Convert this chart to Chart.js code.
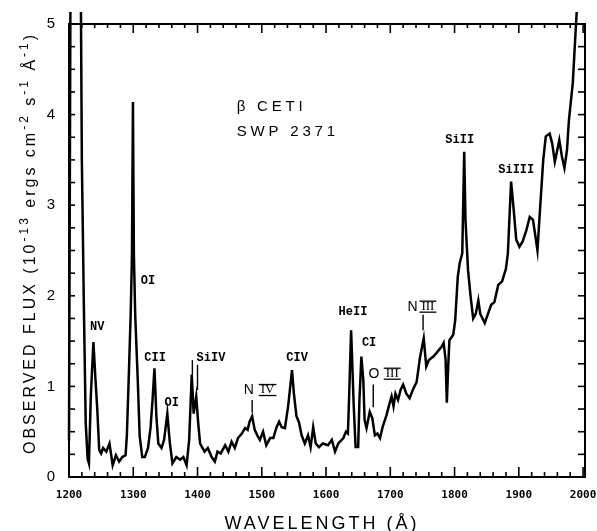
<!DOCTYPE html>
<html>
<head>
<meta charset="utf-8">
<script src="https://cdn.jsdelivr.net/npm/chart.js@4.4.0/dist/chart.umd.min.js"></script>
<style>
  body { margin: 0; background: #fff; }
  canvas { display: block; }
</style>
</head>
<body>
<canvas id="spectrum" width="597" height="531"></canvas>
<script>

// beta Ceti, IUE SWP 2371
var wavelengths = [
  1200, 1203, 1217, 1220, 1223, 1226, 1229, 1231, 1234, 1238, 1241, 1244, 1247, 1250, 1253, 1258,
  1263, 1268, 1273, 1278, 1283, 1288, 1290, 1293, 1296, 1298, 1299.5, 1301, 1303, 1307, 1310, 1314,
  1318, 1323, 1327, 1330, 1333, 1336, 1339, 1344, 1348, 1353, 1357, 1361, 1367, 1373, 1378, 1383,
  1387, 1391, 1394, 1398, 1401, 1404, 1407, 1411, 1416, 1422, 1427, 1431, 1436, 1443, 1448, 1453,
  1458, 1463, 1469, 1474, 1478, 1481, 1485, 1489, 1493, 1497, 1502, 1507, 1513, 1518, 1523, 1527,
  1531, 1536, 1541, 1547, 1550, 1554, 1558, 1562, 1567, 1572, 1576, 1580, 1584, 1589, 1595, 1603,
  1609, 1614, 1619, 1627, 1631, 1634, 1636, 1639, 1641, 1643, 1646, 1650, 1652, 1655, 1658, 1660,
  1663, 1668, 1672, 1676, 1680, 1684, 1688, 1694, 1698, 1702, 1705, 1708, 1712, 1716, 1720, 1725,
  1730, 1735, 1741, 1746, 1752, 1756, 1760, 1767, 1772, 1780, 1783, 1786, 1788, 1790, 1792, 1798,
  1801, 1805, 1808, 1812, 1815, 1817, 1821, 1825, 1829, 1833, 1837, 1840, 1847, 1852, 1857, 1862,
  1868, 1874, 1880, 1883, 1886, 1888, 1892, 1896, 1901, 1906, 1912, 1917, 1922, 1926, 1929, 1932,
  1938, 1942, 1948, 1952, 1956, 1959, 1963, 1967, 1971, 1975, 1978, 1984, 1989, 1994
];
var fluxes = [
  0.4, 7, 7, 3.5, 1.95, 0.6, 0.2, 0.15, 0.9, 1.49, 1.1, 0.75, 0.3, 0.26, 0.32, 0.28,
  0.37, 0.13, 0.24, 0.17, 0.22, 0.24, 0.45, 1.1, 1.8, 2.45, 4.14, 2.45, 1.8, 1.07, 0.45, 0.22,
  0.22, 0.32, 0.55, 0.85, 1.2, 0.67, 0.37, 0.32, 0.41, 0.7, 0.37, 0.15, 0.22, 0.19, 0.22, 0.13,
  0.41, 1.13, 0.7, 0.89, 0.6, 0.37, 0.33, 0.28, 0.32, 0.22, 0.17, 0.28, 0.26, 0.35, 0.28, 0.39,
  0.32, 0.43, 0.48, 0.54, 0.52, 0.61, 0.67, 0.52, 0.46, 0.41, 0.5, 0.35, 0.43, 0.43, 0.55, 0.61,
  0.55, 0.54, 0.78, 1.18, 0.92, 0.67, 0.6, 0.46, 0.37, 0.46, 0.33, 0.55, 0.37, 0.33, 0.37, 0.35,
  0.41, 0.28, 0.37, 0.43, 0.5, 0.48, 0.9, 1.62, 1.22, 0.8, 0.33, 0.33, 0.85, 1.33, 1.07, 0.63,
  0.54, 0.72, 0.65, 0.46, 0.48, 0.43, 0.55, 0.68, 0.79, 0.89, 0.78, 0.92, 0.85, 0.96, 1.02, 0.92,
  0.87, 0.96, 1.05, 1.31, 1.53, 1.22, 1.29, 1.33, 1.37, 1.44, 1.48, 1.3, 0.82, 1.2, 1.51, 1.57,
  1.73, 2.21, 2.36, 2.47, 3.59, 2.84, 2.28, 1.99, 1.75, 1.8, 1.95, 1.8, 1.7, 1.8, 1.9, 1.93,
  2.12, 2.16, 2.3, 2.47, 2.95, 3.26, 2.95, 2.62, 2.54, 2.6, 2.73, 2.87, 2.84, 2.65, 2.5, 2.84,
  3.5, 3.76, 3.79, 3.68, 3.48, 3.58, 3.72, 3.54, 3.41, 3.61, 3.94, 4.35, 5.0, 5.6
];

var xTickLabels = [1200, 1300, 1400, 1500, 1600, 1700, 1800, 1900, 2000];
var yTickLabels = [0, 1, 2, 3, 4, 5];

// line identifications (wavelength, flux of label centre)
var lineNames = ["NV", "OI", "CII", "OI", "SiIV", "CIV", "HeII", "CI", "SiII", "SiIII"];
var lineNameX = [1244, 1323, 1334, 1360, 1421, 1555, 1642, 1667, 1808, 1896];
var lineNameY = [1.66, 2.16, 1.31, 0.82, 1.31, 1.31, 1.82, 1.48, 3.72, 3.39];

// ions written as letter + barred roman numeral
var ionAtoms = ["N", "O", "N"];
var ionStages = ["IV", "III", "III"];
var ionAtomX = [1480, 1674.5, 1734.5];
var ionStageX = [1509, 1703, 1758.5];
var ionY = [0.96, 1.14, 1.88];

// short marker strokes under some labels
var markX = [1392, 1400, 1485, 1673.5, 1751];
var markTop = [1.29, 1.24, 0.85, 1.02, 1.79];
var markBottom = [1.13, 0.96, 0.71, 0.77, 1.62];

var points = wavelengths.map(function(w, i) { return {x: w, y: fluxes[i]}; });

function line(ctx, x1, y1, x2, y2) {
  ctx.beginPath();
  ctx.moveTo(x1, y1);
  ctx.lineTo(x2, y2);
  ctx.stroke();
}

// text with superscripts, centred on x
function richText(ctx, parts, x, y, font, supFont, spacing) {
  ctx.letterSpacing = spacing;
  var w = 0;
  parts.forEach(function(p) {
    ctx.font = p[1] ? supFont : font;
    w += ctx.measureText(p[0]).width;
  });
  var cx = x - w / 2;
  ctx.textAlign = "left";
  ctx.textBaseline = "alphabetic";
  parts.forEach(function(p) {
    ctx.font = p[1] ? supFont : font;
    ctx.fillText(p[0], cx, p[1] ? y - 7 : y);
    cx += ctx.measureText(p[0]).width;
  });
  ctx.letterSpacing = "0px";
}

var decorations = {
  id: "decorations",
  afterDatasetsDraw: function(chart) {
    var ctx = chart.ctx;
    var area = chart.chartArea;
    var xs = chart.scales.x;
    var ys = chart.scales.y;
    ctx.save();
    ctx.strokeStyle = "#000";
    ctx.fillStyle = "#000";

    //frame
    ctx.lineWidth = 2;
    ctx.strokeRect(area.left, area.top, area.right - area.left, area.bottom - area.top);

    //inward ticks
    ctx.lineWidth = 1.6;
    for (var w = 1200; w <= 2000; w += 20) {
      var px = xs.getPixelForValue(w);
      var major = w % 100 == 0;
      line(ctx, px, area.bottom, px, area.bottom - (major ? 10 : 5));
      line(ctx, px, area.top, px, area.top + (major ? 9 : 4));
    }
    for (var f = 0.25; f < 5; f += 0.25) {
      var py = ys.getPixelForValue(f);
      line(ctx, area.left, py, area.left + 6, py);
      line(ctx, area.right, py, area.right - 7, py);
    }

    //line names
    ctx.font = "bold 12px 'Liberation Mono'";
    ctx.textAlign = "center";
    ctx.textBaseline = "middle";
    lineNames.forEach(function(name, i) {
      ctx.fillText(name, xs.getPixelForValue(lineNameX[i]), ys.getPixelForValue(lineNameY[i]));
    });

    ionAtoms.forEach(function(atom, i) {
      var y = ys.getPixelForValue(ionY[i]);
      ctx.font = "14px 'Liberation Sans'";
      ctx.fillText(atom, xs.getPixelForValue(ionAtomX[i]), y);
      ctx.font = "13px 'Liberation Serif'";
      var sx = xs.getPixelForValue(ionStageX[i]);
      ctx.fillText(ionStages[i], sx, y);
      var half = ctx.measureText(ionStages[i]).width / 2 + 2;
      ctx.lineWidth = 1.3;
      line(ctx, sx - half, y - 5.5, sx + half, y - 5.5);
      line(ctx, sx - half, y + 5.5, sx + half, y + 5.5);
    });

    ctx.lineWidth = 1.4;
    markX.forEach(function(m, i) {
      var px = xs.getPixelForValue(m);
      line(ctx, px, ys.getPixelForValue(markTop[i]), px, ys.getPixelForValue(markBottom[i]));
    });

    //star name
    ctx.font = "15px 'Liberation Sans'";
    ctx.textAlign = "left";
    ctx.textBaseline = "middle";
    ctx.letterSpacing = "3.8px";
    ctx.fillText("\u03b2 CETI", xs.getPixelForValue(1461), ys.getPixelForValue(4.08));
    ctx.fillText("SWP 2371", xs.getPixelForValue(1461), ys.getPixelForValue(3.81));
    ctx.letterSpacing = "0px";

    //axis titles
    richText(ctx, [["WAVELENGTH (\u00c5)"]], 322, 529, "18px 'Liberation Sans'", "12px 'Liberation Sans'", "3px");
    ctx.translate(35, 243);
    ctx.rotate(-Math.PI / 2);
    richText(ctx, [["OBSERVED FLUX (10"], ["-13", 1], [" ergs cm"], ["-2", 1], [" s"], ["-1", 1], [" \u00c5"], ["-1", 1], [")"]],
      0, 0, "16px 'Liberation Sans'", "12px 'Liberation Sans'", "3px");
    ctx.restore();
  }
};

new Chart(document.getElementById("spectrum"), {
  type: "line",
  data: {
    datasets: [{
      data: points,
      borderColor: "#000",
      borderWidth: 2.5,
      pointRadius: 0,
      tension: 0,
      clip: {left: 5, top: 12, right: 5, bottom: 5}
    }]
  },
  options: {
    responsive: false,
    animation: false,
    events: [],
    layout: {padding: {top: 24, right: 12, left: 0, bottom: 0}},
    plugins: {legend: {display: false}, tooltip: {enabled: false}},
    scales: {
      x: {
        type: "linear", min: 1200, max: 2003,
        grid: {display: false, drawTicks: false},
        border: {display: false},
        ticks: {color: "#000", padding: 12, maxRotation: 0,
          font: {family: "'DejaVu Sans Mono'", weight: "bold", size: 11},
          callback: function(v) { return String(v); }},
        afterBuildTicks: function(s) { s.ticks = xTickLabels.map(function(v) { return {value: v}; }); },
        afterFit: function(s) { s.height = 54; s.paddingLeft = 0; s.paddingRight = 0; }
      },
      y: {
        min: 0, max: 5,
        grid: {display: false, drawTicks: false},
        border: {display: false},
        ticks: {color: "#000", padding: 14,
          font: {family: "'Liberation Sans'", size: 15},
          callback: function(v) { return String(v); }},
        afterBuildTicks: function(s) { s.ticks = yTickLabels.map(function(v) { return {value: v}; }); },
        afterFit: function(s) { s.width = 69; }
      }
    }
  },
  plugins: [decorations]
});
</script>
</body>
</html>
